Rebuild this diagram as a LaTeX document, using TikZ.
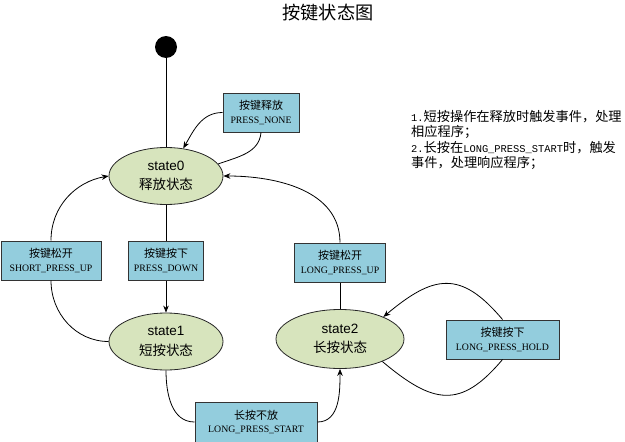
\documentclass[tikz,border=0pt]{standalone}
\usepackage{fontspec}
\setmainfont{Liberation Sans}
\newfontfamily\cjk{Noto Sans CJK SC}
\newfontfamily\boxlat{Liberation Serif}
\newfontfamily\notemono{Liberation Mono}
\usetikzlibrary{arrows.meta,shapes.geometric}
\definecolor{boxblue}{RGB}{147,205,221}
\definecolor{stategreen}{RGB}{215,228,189}

\newcommand{\evlabel}[2]{{\cjk #1}\\{\boxlat\fontsize{9.8}{13.5}\selectfont #2}}
\newcommand{\stlabel}[2]{#1\\{\cjk #2}}
\newcommand{\nm}[1]{{\notemono\fontsize{10.4}{15.5}\selectfont #1}}

\begin{document}
\begin{tikzpicture}[>={Stealth[length=7pt,width=5.5pt]}, x=1pt, y=-1pt, node distance=84.5pt]
			\tikzstyle{state} = [draw=black!85, line width=0.8pt, ellipse, fill=stategreen, minimum width=114pt, minimum height=57pt, inner sep=0pt, align=center, font=\fontsize{13.5}{19.5}\selectfont]
			\tikzstyle{event} = [draw=black!80, line width=1pt, fill=boxblue, minimum height=39pt, inner sep=0pt, align=center, font=\fontsize{11}{13.5}\selectfont]
			\tikzstyle{start} = [fill=black, circle, minimum size=22pt, inner sep=0pt]

			\useasboundingbox (0,0) rectangle (625,442);

			\node[font=\cjk\fontsize{18.2}{20}\selectfont] (title) at (328,13) {按键状态图};

			\begin{scope}
			\path[->, line width=0.8pt]

			node[state] (s0) at (166,176) {\stlabel{state0}{释放状态}}
			node[start, above of=s0, node distance=129pt] (init) {}
			node[event, minimum width=76pt] (none) at (261,112.5) {\evlabel{按键释放}{PRESS\_NONE}}
			node[event, minimum width=75pt, below of=s0] (down) {\evlabel{按键按下}{PRESS\_DOWN}}
			node[event, minimum width=100pt, left of=down, node distance=115pt] (sup) {\evlabel{按键松开}{SHORT\_PRESS\_UP}}
			node[state, below of=down, node distance=81pt] (s1) {\stlabel{state1}{短按状态}}
			node[event, minimum width=122pt, minimum height=40pt] (lstart) at (256,422) {\evlabel{长按不放}{LONG\_PRESS\_START}}
			node[state, minimum width=128pt, minimum height=59pt] (s2) at (340,339) {\stlabel{state2}{长按状态}}
			node[event, minimum width=91pt, above of=s2, node distance=76.5pt] (lup) {\evlabel{按键松开}{LONG\_PRESS\_UP}}
			node[event, minimum width=113pt] (hold) at (502.5,339.5) {\evlabel{按键按下}{LONG\_PRESS\_HOLD}}

			(init) edge[-] (s0)
			(none.west) edge[out=180, in=60] (s0.58)
			(none.south) edge[-, out=-95, in=20] (s0.13)
			(s0) edge[-] (down)
			(down) edge (s1)
			(sup.north) edge[out=90, in=190] (s0.west)
			(sup.south) edge[-, out=-90, in=180] (s1.west)
			(s1.south) edge[-, out=-90, in=180] (lstart.west)
			(lstart.east) edge[out=0, in=-90] (s2.south)
			(s2) edge[-] (lup)
			(lup.north) edge[out=90, in=0] (s0.east)
			(hold.north) edge[out=130, in=40, looseness=1.4] (s2.27)
			(hold.south) edge[-, out=-130, in=-40, looseness=1.4] (s2.-28)
			;
			\end{scope}

			% note on the right
			\node[anchor=north west, inner sep=0pt, align=left, font=\cjk\fontsize{13.2}{15.5}\selectfont] (note) at (411,110)
			{\nm{1.}短按操作在释放时触发事件，处理\\
			相应程序；\\
			\nm{2.}长按在\nm{LONG\_PRESS\_START}时，触发\\
			事件，处理响应程序；};

\end{tikzpicture}
\end{document}
